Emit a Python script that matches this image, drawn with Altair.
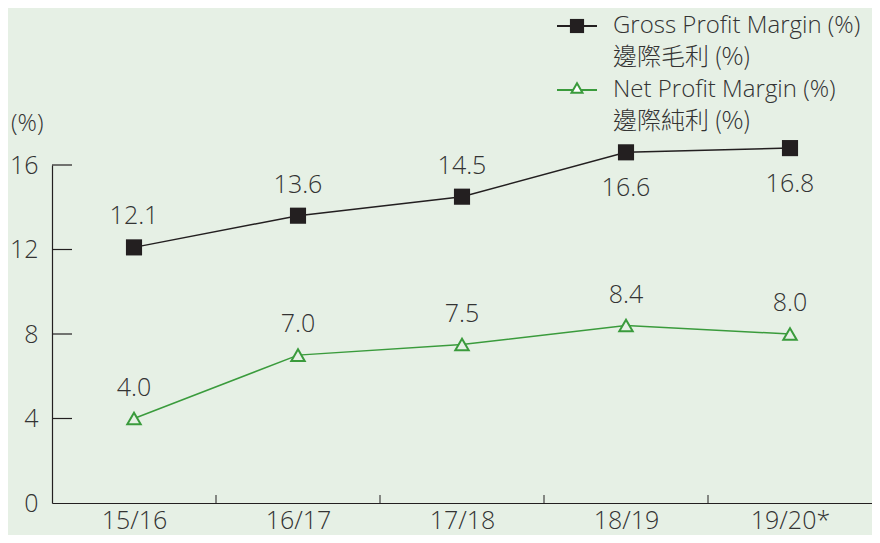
import altair as alt
import pandas as pd

years = ["15/16", "16/17", "17/18", "18/19", "19/20*"]
gross = [12.1, 13.6, 14.5, 16.6, 16.8]
net = [4.0, 7.0, 7.5, 8.4, 8.0]
gross_label_side = ["above", "above", "above", "below", "below"]
net_label_side = ["above", "above", "above", "above", "above"]
y_ticks = [0, 4, 8, 12, 16]
x_boundaries = [0.5, 1.5, 2.5, 3.5]

BG = "#E6F0E5"
BLACK = "#231F20"
GREEN = "#3A9B3C"
TXT = "#333333"
FONT = "Open Sans"
CJK = "Noto Sans CJK TC"
FS = 25

W, H = 820, 338

rows = []
for i, y in enumerate(years):
    rows.append({"idx": i, "year": y, "series": "gross", "value": gross[i],
                 "label": f"{gross[i]:.1f}", "side": gross_label_side[i]})
    rows.append({"idx": i, "year": y, "series": "net", "value": net[i],
                 "label": f"{net[i]:.1f}", "side": net_label_side[i]})
df = pd.DataFrame(rows)

label_expr = "[" + ",".join(f"'{y}'" for y in years) + "][datum.value]"

xs = alt.Scale(domain=[-0.5, 4.5], nice=False, zero=False)
ys = alt.Scale(domain=[0, 16], nice=False)

xenc = alt.X("idx:Q", scale=xs, axis=alt.Axis(
    values=list(range(len(years))), labelExpr=label_expr, ticks=False, grid=False,
    domainColor=BLACK, domainWidth=1.2, labelFont=FONT, labelFontSize=FS,
    labelColor=TXT, labelPadding=5, labelFontWeight=300, title=None))
yenc = alt.Y("value:Q", scale=ys, axis=alt.Axis(
    values=y_ticks, ticks=False, grid=False, domainColor=BLACK, domainWidth=1.2,
    labelFont=FONT, labelFontSize=FS, labelColor=TXT, labelPadding=14,
    labelFontWeight=300, title=None))

base = alt.Chart(df)

gross_c = base.transform_filter("datum.series == 'gross'")
net_c = base.transform_filter("datum.series == 'net'")

gross_line = gross_c.mark_line(color=BLACK, strokeWidth=1.5).encode(x=xenc, y=yenc)
gross_pts = gross_c.mark_point(shape="square", filled=True, color=BLACK, size=260, opacity=1).encode(x="idx:Q", y="value:Q")
net_line = net_c.mark_line(color=GREEN, strokeWidth=1.5).encode(x="idx:Q", y="value:Q")
net_pts = net_c.mark_point(shape="triangle-up", filled=False, stroke=GREEN, fill=BG,
                           fillOpacity=1, strokeWidth=2, size=180, opacity=1).encode(x="idx:Q", y="value:Q")

lbl_above = base.transform_filter("datum.side == 'above'").mark_text(
    font=FONT, fontSize=FS, fontWeight=300, color=TXT, dy=-31).encode(
    x="idx:Q", y="value:Q", text="label:N")
lbl_below = base.transform_filter("datum.side == 'below'").mark_text(
    font=FONT, fontSize=FS, fontWeight=300, color=TXT, dy=36).encode(
    x="idx:Q", y="value:Q", text="label:N")

ytick_df = pd.DataFrame({"v": y_ticks[1:]})
ytick_rules = alt.Chart(ytick_df).mark_rule(color=BLACK, strokeWidth=1.2).encode(
    y="v:Q", x=alt.value(0), x2=alt.value(20))

xtick_df = pd.DataFrame({"b": x_boundaries})
xtick_rules = alt.Chart(xtick_df).mark_rule(color=BLACK, strokeWidth=1).encode(
    x=alt.X("b:Q", scale=xs), y=alt.value(H - 8), y2=alt.value(H))

one = pd.DataFrame({"a": [0]})
unit_txt = alt.Chart(one).mark_text(font=FONT, fontSize=24, fontWeight=300, color=TXT,
                                    align="left", baseline="middle").encode(
    x=alt.value(-41), y=alt.value(-41), text=alt.value("(%)"))

# legend
lg_gross_line = alt.Chart(one).mark_rule(color=BLACK, strokeWidth=2).encode(
    x=alt.value(505), x2=alt.value(545), y=alt.value(-139))
lg_gross_pt = alt.Chart(one).mark_point(shape="square", filled=True, color=BLACK, size=200, opacity=1).encode(
    x=alt.value(525), y=alt.value(-139))
lg_net_line = alt.Chart(one).mark_rule(color=GREEN, strokeWidth=2).encode(
    x=alt.value(505), x2=alt.value(545), y=alt.value(-75))
lg_net_pt = alt.Chart(one).mark_point(shape="triangle-up", filled=False, stroke=GREEN, fill="white",
                                      fillOpacity=1, strokeWidth=2, size=120, opacity=1).encode(
    x=alt.value(525), y=alt.value(-77))

def lg_text(txt, y, font, fs):
    return alt.Chart(one).mark_text(font=font, fontSize=fs, fontWeight=300, color=TXT,
                                    align="left", baseline="middle").encode(
        x=alt.value(561), y=alt.value(y), text=alt.value(txt))

legend = [
    lg_gross_line, lg_gross_pt, lg_net_line, lg_net_pt,
    lg_text("Gross Profit Margin (%)", -139, FONT, 24),
    lg_text("邊際毛利 (%)", -107, CJK, 24),
    lg_text("Net Profit Margin (%)", -75, FONT, 24),
    lg_text("邊際純利 (%)", -43, CJK, 24),
]

chart = alt.layer(
    gross_line, net_line, ytick_rules, xtick_rules, gross_pts, net_pts,
    lbl_above, lbl_below, unit_txt, *legend
).properties(
    width=W, height=H,
    autosize=alt.AutoSizeParams(type="none"),
    padding={"left": 44, "top": 157, "right": 0, "bottom": 32},
    background=BG,
).configure_view(stroke=None)

chart.save("out.html", embed_options={"renderer": "svg", "actions": False})
